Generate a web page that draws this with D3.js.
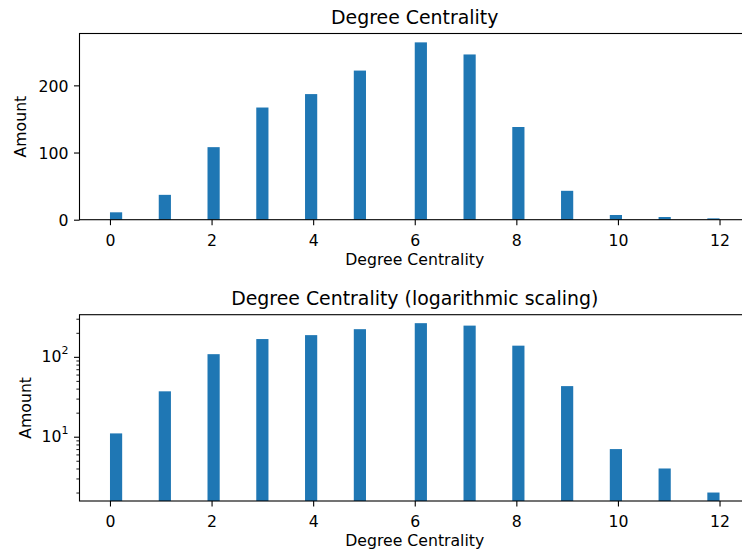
<!DOCTYPE html>
<html>
<head>
<meta charset="utf-8">
<script src="https://cdn.jsdelivr.net/npm/d3@7"></script>
<style>
  body { margin: 0; background: #fff; }
  svg { display: block; }
  text { font-family: "DejaVu Sans", sans-serif; fill: #000; }
</style>
</head>
<body>
<svg id="chart" width="742" height="553"></svg>
<script>
// ---- data ----
const degrees = [0, 1, 2, 3, 4, 5, 6, 7, 8, 9, 10, 11, 12];
const counts = [11, 37, 108, 167, 187, 222, 264, 246, 138, 43, 7, 4, 2];
const xTicks = [0, 2, 4, 6, 8, 10, 12];
const yTicksLinear = [0, 100, 200];
const yTicksLog = [10, 100];
const yMinorLog = [2, 3, 4, 5, 6, 7, 8, 9, 20, 30, 40, 50, 60, 70, 80, 90, 200, 300];
const titles = ["Degree Centrality", "Degree Centrality (logarithmic scaling)"];
const xLabel = "Degree Centrality";
const yLabel = "Amount";
const nBins = 50;

// ---- layout ----
const svg = d3.select("#chart");
const L = 79.5, R = 750;
const panels = [
  { top: 33.5, bottom: 219.7, log: false, ylabX: 25.7 },
  { top: 314.7, bottom: 501, log: true, ylabX: 30.7 }
];
const color = "#1f77b4";
const tickFont = 15.7, titleFont = 18.9;
const majorLen = 5.5, minorLen = 3.1, tickPad = 5.5;

const dMin = d3.min(degrees), dMax = d3.max(degrees);
const bw = (dMax - dMin) / nBins;
const bins = degrees.map((d, i) => {
  const idx = Math.min(nBins - 1, Math.floor((d - dMin) / bw + 1e-9));
  return { x0: dMin + idx * bw, x1: dMin + (idx + 1) * bw, n: counts[i] };
});

const span = dMax - dMin;
const x = d3.scaleLinear().domain([dMin - 0.05 * span, dMax + 0.05 * span]).range([L, R]);

panels.forEach((p, pi) => {
  const g = svg.append("g");
  let y;
  if (!p.log) {
    y = d3.scaleLinear().domain([0, d3.max(counts) * 1.05]).range([p.bottom, p.top]);
  } else {
    const lo = Math.log10(d3.min(counts)), hi = Math.log10(d3.max(counts));
    const m = 0.05 * (hi - lo);
    y = d3.scaleLog().domain([Math.pow(10, lo - m), Math.pow(10, hi + m)]).range([p.bottom, p.top]);
  }
  const base = p.log ? y.domain()[0] : 0;

  // bars
  g.selectAll("rect.bar").data(bins).enter().append("rect")
    .attr("class", "bar")
    .attr("x", d => x(d.x0))
    .attr("width", d => x(d.x1) - x(d.x0))
    .attr("y", d => y(d.n))
    .attr("height", d => y(base) - y(d.n))
    .attr("fill", color);

  // x axis
  const xa = g.append("g").attr("transform", `translate(0,${p.bottom})`)
    .call(d3.axisBottom(x).tickValues(xTicks).tickSize(majorLen).tickPadding(tickPad).tickSizeOuter(0));
  xa.select(".domain").remove();
  xa.selectAll("line").attr("stroke", "#000").attr("stroke-width", 1.1);
  xa.selectAll("text").attr("font-size", tickFont).attr("dy", null).attr("y", 26)
    .attr("font-family", "DejaVu Sans");

  // y axis
  if (!p.log) {
    const ya = g.append("g").attr("transform", `translate(${L},0)`)
      .call(d3.axisLeft(y).tickValues(yTicksLinear).tickSize(majorLen).tickPadding(tickPad).tickSizeOuter(0));
    ya.select(".domain").remove();
    ya.selectAll("line").attr("stroke", "#000").attr("stroke-width", 1.1);
    ya.selectAll("text").attr("font-size", tickFont).attr("dy", "0.36em").attr("x", -11)
      .attr("font-family", "DejaVu Sans");
  } else {
    const ya = g.append("g").attr("transform", `translate(${L},0)`)
      .call(d3.axisLeft(y).tickValues(yTicksLog).tickSize(majorLen).tickPadding(tickPad).tickFormat(""))
    ya.select(".domain").remove();
    ya.selectAll("line").attr("stroke", "#000").attr("stroke-width", 1.1);
    // minor ticks
    const ym = g.append("g").attr("transform", `translate(${L},0)`)
      .call(d3.axisLeft(y).tickValues(yMinorLog.filter(v => v >= y.domain()[0] && v <= y.domain()[1]))
        .tickSize(minorLen).tickFormat(""));
    ym.select(".domain").remove();
    ym.selectAll("line").attr("stroke", "#000").attr("stroke-width", 0.9);
    // labels 10^n
    yTicksLog.forEach(v => {
      const t = g.append("text")
        .attr("x", L - 11).attr("y", y(v)).attr("dy", "0.36em")
        .attr("text-anchor", "end").attr("font-size", tickFont);
      t.append("tspan").text("10");
      t.append("tspan").attr("font-size", tickFont * 0.7).attr("dy", "-0.75em")
        .text(String(Math.round(Math.log10(v))));
    });
  }

  // spines
  g.append("rect").attr("x", L).attr("y", p.top).attr("width", R - L).attr("height", p.bottom - p.top)
    .attr("fill", "none").attr("stroke", "#000").attr("stroke-width", 1.1);

  // title
  g.append("text").attr("x", (L + R) / 2).attr("y", p.top - 9.4)
    .attr("text-anchor", "middle").attr("font-size", titleFont).text(titles[pi]);
  // x label
  g.append("text").attr("x", (L + R) / 2).attr("y", p.bottom + 45)
    .attr("text-anchor", "middle").attr("font-size", tickFont).text(xLabel);
  // y label
  g.append("text").attr("transform", `translate(${p.ylabX},${(p.top + p.bottom) / 2}) rotate(-90)`)
    .attr("text-anchor", "middle").attr("font-size", tickFont).text(yLabel);
});
</script>
</body>
</html>
